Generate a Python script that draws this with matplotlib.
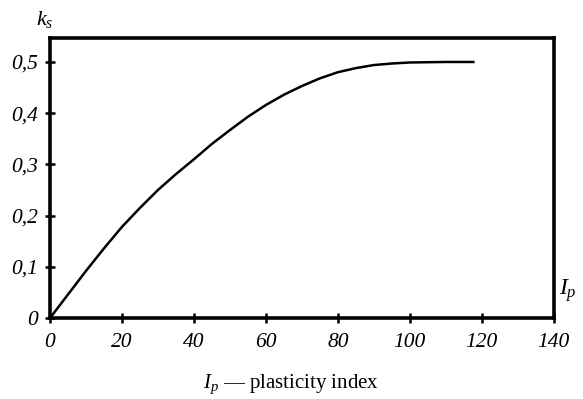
import matplotlib
matplotlib.use("Agg")
from matplotlib import pyplot as plt

plt.rcParams['font.family'] = 'Liberation Serif'
plt.rcParams['mathtext.fontset'] = 'custom'
plt.rcParams['mathtext.rm'] = 'Liberation Serif'
plt.rcParams['mathtext.it'] = 'Liberation Serif:italic'

# plasticity index vs k_s
ip = [0, 5, 10, 15, 20, 25, 30, 35, 40, 45, 50, 55, 60, 65, 70, 75, 80, 85, 90, 95, 100, 110, 118]
ks = [0, 0.046, 0.092, 0.136, 0.178, 0.215, 0.25, 0.281, 0.31, 0.34, 0.367, 0.393, 0.416, 0.436,
      0.453, 0.468, 0.48, 0.488, 0.494, 0.497, 0.499, 0.5, 0.5]

xticks = [0, 20, 40, 60, 80, 100, 120, 140]
yticks = [0, 0.1, 0.2, 0.3, 0.4, 0.5]
ylabels = ['0', '0,1', '0,2', '0,3', '0,4', '0,5']

fig = plt.figure(figsize=(5.83, 3.99), dpi=100)
ax = fig.add_axes([0.0858, 0.203, 0.864, 0.702])
ax.plot(ip, ks, color="black", linewidth=1.8, solid_capstyle='butt')
ax.set_xlim(0, 140)
ax.set_ylim(0, 0.547)

for s in ax.spines.values():
  s.set_linewidth(2.6)
ax.set_xticks(xticks)
ax.set_xticklabels([str(t) for t in xticks], fontstyle='italic', fontsize=15.5)
ax.set_yticks(yticks)
ax.set_yticklabels(ylabels, fontstyle='italic', fontsize=15.5)
ax.tick_params(direction='inout', length=7, width=1.8)
ax.tick_params(axis='x', pad=7)
ax.tick_params(axis='y', pad=5)

ax.text(-0.01, 1.03, "$k_s$", transform=ax.transAxes, fontsize=16, ha='center', va='bottom')
ax.text(1.01, 0.05, "$I_p$", transform=ax.transAxes, fontsize=17, ha='left', va='bottom')
fig.text(0.5, 0.037, "$I_p$ — plasticity index", fontsize=15, ha='center', va='center')

plt.savefig("out.png", dpi=100)
